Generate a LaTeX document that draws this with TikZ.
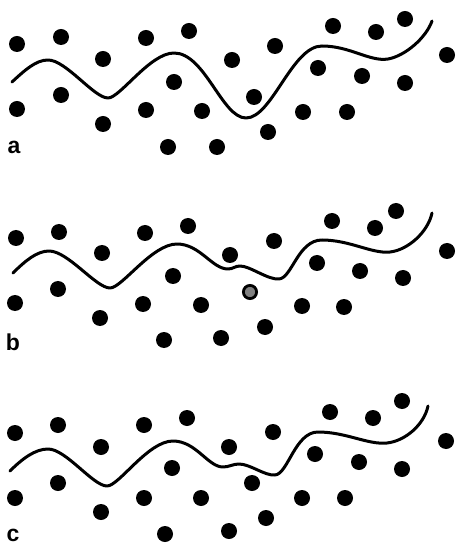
\documentclass[tikz,border=0pt]{standalone}
\usepackage{fontspec}
\setsansfont{Liberation Sans}
\usepackage{xcolor}
\usepackage{tikz}
\definecolor{Ink}{HTML}{000000}
\definecolor{Stain}{HTML}{808080}
\tikzset{
  dot/.style={circle,fill=Ink,inner sep=0pt,minimum size=8pt},
  greydot/.style={circle,draw=Ink,line width=1.4pt,fill=Stain,inner sep=0pt,minimum size=6.6pt},
  chain/.style={line width=1.5pt,draw=Ink,line cap=round,line join=round},
  tag/.style={font=\sffamily\bfseries\fontsize{11.5}{12}\selectfont,inner sep=0pt}
}

\begin{document}
\begin{tikzpicture}[x=0.5pt,y=-0.5pt]
  \useasboundingbox (0,0) rectangle (456,544);
  % panel a
  \foreach \x/\y [count=\i] in {17/44,61/37,103/59,146/38,189/31,232/60,275/46,333/26,376/32,405/19,447/55,318/68,362/76,405/83,174/82,254/97,17/109,61/95,103/124,146/110,202/111,303/112,347/112,268/132,168/147,217/147}
    \node[dot] (a\i) at (\x,\y) {};
  \draw[chain] (12,82) .. controls (25,70) and (36,60) .. (48,60)
    .. controls (66,60) and (94,98) .. (108,98)
    .. controls (120,98) and (150,53) .. (174,53)
    .. controls (205,53) and (222,118) .. (246,118)
    .. controls (272,118) and (292,46) .. (322,46)
    .. controls (350,46) and (370,62) .. (388,59)
    .. controls (405,56) and (426,38) .. (432,21);
  \node[tag] (la) at (14,147) {a};
  % panel b
  \foreach \x/\y [count=\i] in {16/238,59/232,102/253,145/233,188/226,230/255,274/241,332/221,375/228,396/211,447/251,317/263,360/271,403/278,173/276,15/303,58/289,100/318,143/304,201/305,302/306,344/307,265/327,164/340,221/338}
    \node[dot] (b\i) at (\x,\y) {};
  \node[greydot] (bx) at (250,292) {};
  \draw[chain] (13,273) .. controls (25,261) and (37,251) .. (49,251)
    .. controls (68,251) and (96,288) .. (110,288)
    .. controls (122,288) and (152,244) .. (177,244)
    .. controls (200,244) and (212,269) .. (228,269)
    .. controls (233,269) and (235,266) .. (240,266)
    .. controls (250,266) and (268,280) .. (279,279)
    .. controls (292,278) and (298,240) .. (322,240)
    .. controls (350,240) and (372,254) .. (390,252)
    .. controls (408,250) and (428,232) .. (432,213);
  \node[tag] (lb) at (13,342) {b};
  % panel c
  \foreach \x/\y [count=\i] in {15/433,58/425,101/447,144/425,187/418,229/447,273/432,330/412,373/418,402/401,446/441,315/454,359/462,402/469,172/468,252/483,15/498,58/483,101/512,144/498,201/498,302/498,345/498,266/518,165/534,229/531}
    \node[dot] (c\i) at (\x,\y) {};
  \draw[chain] (10,471) .. controls (22,459) and (35,449) .. (48,449)
    .. controls (66,449) and (93,486) .. (107,486)
    .. controls (119,486) and (148,441) .. (173,441)
    .. controls (196,441) and (208,467) .. (223,467)
    .. controls (229,467) and (233,464) .. (239,464)
    .. controls (250,464) and (265,476) .. (275,475)
    .. controls (288,474) and (295,432) .. (318,432)
    .. controls (346,432) and (368,445) .. (387,443)
    .. controls (405,441) and (424,425) .. (428,406);
  \node[tag] (lc) at (13,535) {c};
\end{tikzpicture}
\end{document}
